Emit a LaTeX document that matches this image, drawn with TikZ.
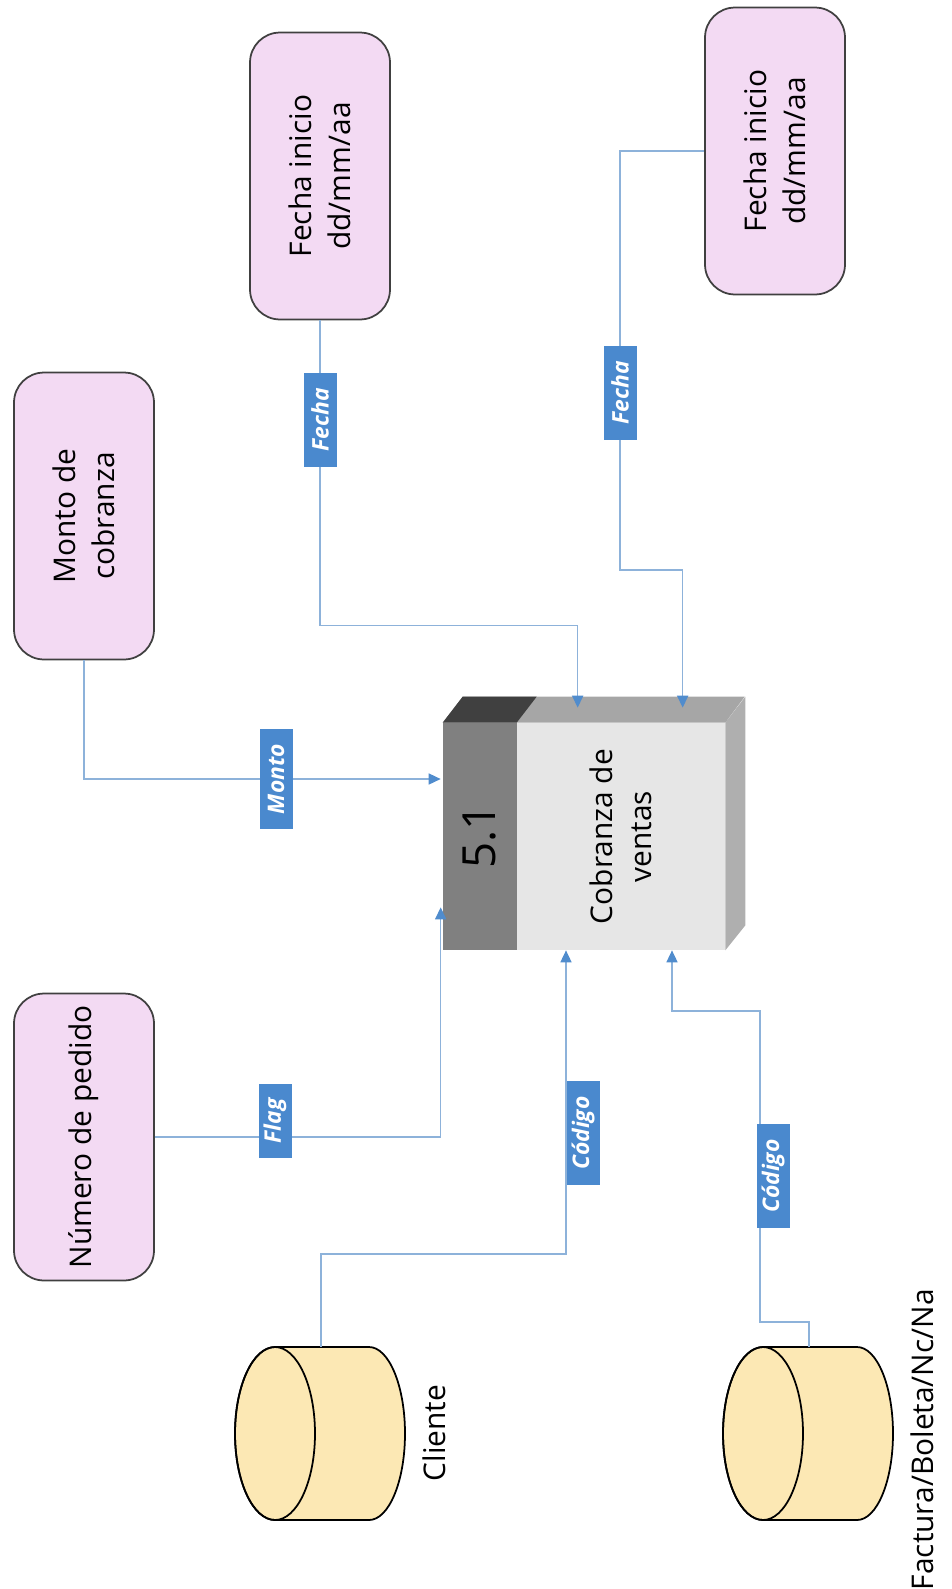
\documentclass[tikz,border=0pt]{standalone}
\usepackage{fontspec}
\setmainfont{Open Sans}
\usetikzlibrary{arrows.meta,positioning,calc}
\definecolor{termpink}{RGB}{243,218,243}
\definecolor{termedge}{RGB}{64,64,64}
\definecolor{dbyellow}{RGB}{252,232,180}
\definecolor{flowline}{RGB}{141,178,218}
\definecolor{flowtip}{RGB}{80,140,205}
\definecolor{tagblue}{RGB}{74,137,206}
\definecolor{procface}{RGB}{230,230,230}
\definecolor{procstrip}{RGB}{128,128,128}
\definecolor{proctop}{RGB}{166,166,166}
\definecolor{procdark}{RGB}{64,64,64}

\begin{document}
\begin{tikzpicture}[
  x=0.02cm, y=0.02cm,
  term/.style={draw=termedge, line width=1pt, fill=termpink, rounded corners=0.6cm,
               rotate=90, minimum width=5.74cm, minimum height=2.8cm, align=center,
               font=\fontsize{17}{22}\selectfont},
  tag/.style={fill=tagblue, text=white, rotate=90, inner xsep=0.3cm, inner ysep=0pt,
              minimum height=0.66cm, font=\fontsize{13}{15}\selectfont\bfseries\itshape},
  flow/.style={draw=flowline, line width=0.9pt,
               -{Triangle[length=0.24cm,width=0.22cm,color=flowtip]}},
  dbtext/.style={rotate=90, font=\fontsize{17}{22}\selectfont}
]
\useasboundingbox (0,0) rectangle (951,-1589);

% External entities
\node[term] (monto) at (84,-516) {Monto de\\cobranza};
\node[term] (pedido) at (84,-1137) {Número de pedido};
\node[term] (fechaA) at (320,-176) {Fecha inicio\\dd/mm/aa};
\node[term] (fechaB) at (775,-151) {Fecha inicio\\dd/mm/aa};

% Process 5.1
\node[fill=procface, minimum width=5.64cm, minimum height=4.54cm, inner sep=0pt] (proc) at (584,-836.5) {};
\fill[procstrip] (proc.north west) rectangle ([shift={(74,0)}]proc.south west);
\fill[proctop] (proc.north west) -- ++(20,26) -- ++(282,0) -- (proc.north east) -- cycle;
\fill[procdark] (proc.north west) -- ++(20,26) -- ++(74,0) -- ++(-20,-26) -- cycle;
\fill[proctop!90!white] (proc.north east) -- ++(20,26) -- ([shift={(20,25)}]proc.south east)
  -- (proc.south east) -- cycle;
\node[rotate=90, font=\fontsize{26}{30}\selectfont] (procnum) at ($(proc.west)+(37,0)$) {5.1};
\node[rotate=90, align=center, font=\fontsize{17}{22}\selectfont] (proctext)
  at ($(proc.center)+(37,0)$) {Cobranza de\\ventas};

% Data stores
\foreach \cx/\nm in {275/cliente, 763/factura}{
  \filldraw[fill=dbyellow, draw=black, line width=1pt] (\cx,-1347) -- ++(94,0)
    arc[start angle=90, end angle=-90, x radius=36, y radius=86.5]
    -- (\cx,-1520) arc[start angle=270, end angle=90, x radius=40, y radius=86.5] -- cycle;
  \draw[line width=1pt] (\cx,-1433.5) ellipse[x radius=40, y radius=86.5];
  \coordinate (\nm) at (\cx+46,-1347);
}
\node[dbtext] (clientelbl) at (434,-1433) {Cliente};
\node[dbtext, anchor=east] (facturalbl) at (922,-1283) {Factura/Boleta/Nc/Na};

% Flows
\draw[flow] (monto.west) |- ([shift={(-2,57.5)}]proc.west);
\draw[flow] (pedido.south) -| ([shift={(-2,43)}]proc.south west);
\draw[flow] (fechaA.west) -- ++(0,-305) -| ([shift={(135,15)}]proc.north west);
\draw[flow] (fechaB.north) -| ++(-84,-419) -| ([shift={(240,15)}]proc.north west);
\draw[flow] (cliente) -- ++(0,93) -| ([shift={(-18,0)}]proc.south);
\draw[flow] (factura) -- ++(0,25) -| ++(-49,311) -| ([shift={(88,0)}]proc.south);

% Flow labels
\node[tag] (tagmonto) at (276,-779) {Monto};
\node[tag] (tagflag) at (275,-1121) {Flag};
\node[tag] (tagfechaA) at (320,-420) {Fecha};
\node[tag] (tagfechaB) at (620,-393) {Fecha};
\node[tag] (tagcodA) at (583,-1133) {Código};
\node[tag] (tagcodB) at (773,-1176) {Código};

\end{tikzpicture}
\end{document}
